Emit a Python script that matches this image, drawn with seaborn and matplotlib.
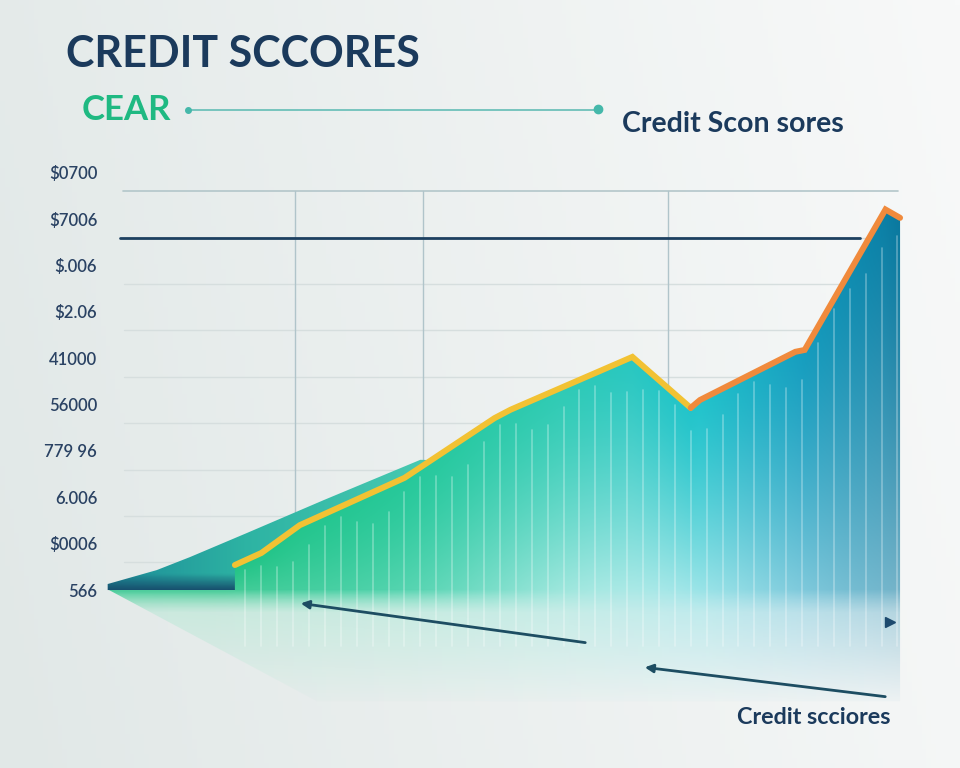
import numpy as np
import matplotlib
matplotlib.use("Agg")
import matplotlib.pyplot as plt
import seaborn as sns
from matplotlib.patches import Polygon, FancyArrowPatch
from matplotlib.colors import to_rgb

# months along x, score level (tick index) along y
score_x = [9.8, 11.8, 14.7, 22.6, 29.4, 30.6, 39.8, 44.2, 44.9, 52.1, 52.8, 58.9, 60.0]
score_y = [0.54, 0.80, 1.40, 2.42, 3.71, 3.89, 5.03, 3.93, 4.10, 5.14, 5.18, 8.21, 8.03]
split_at = 7  # yellow up to the dip, orange after it

back_x = [0.2, 3.9, 6.4, 10.7, 16.5, 23.8, 25.0]
back_y = [0.13, 0.43, 0.71, 1.23, 1.94, 2.81, 2.80]

tick_labels = ["566", "$0006", "6.006", "779 96", "56000", "41000", "$2.06", "$.006", "$7006", "$0700"]
ref_level = 7.6
vgrid_x = [14.3, 24.0, 42.5]

navy = "#1b3a5c"

sns.set_theme(style="white")
plt.rcParams["font.family"] = ["Lato", "DejaVu Sans"]

fig = plt.figure(figsize=(9.6, 7.68), dpi=100)

# background wash
bg = fig.add_axes([0, 0, 1, 1], zorder=0)
gx, gy = np.meshgrid(np.linspace(0, 1, 200), np.linspace(0, 1, 160))
left = np.array(to_rgb("#e1e8e7"))
right = np.array(to_rgb("#f8f9f9"))
t = np.clip(gx * 0.85 + (1 - gy) * 0.15, 0, 1)[..., None]
img = left * (1 - t) + right * t
bg.imshow(img, extent=[0, 1, 0, 1], aspect="auto", origin="upper")
bg.axis("off")

ax = fig.add_axes([100 / 960, 63 / 768, 810 / 960, 540 / 768], zorder=1)
ax.set_facecolor("none")
ax.set_xlim(-0.38, 60.75)
ax.set_ylim(-2.48, 9.17)

# grid
for k in range(1, 9):
    ax.axhline(k - 0.4, xmin=0.03, xmax=0.985, color="#d6dede", lw=1, zorder=1)
ax.axhline(8.61, xmin=0.028, xmax=0.985, color="#b3c6ca", lw=1.2, zorder=1)
for vx in vgrid_x:
    ax.plot([vx, vx], [0, 8.61], color="#b0c4ca", lw=1, zorder=1)
ax.plot([1.1, 57.0], [ref_level, ref_level], color="#1d4060", lw=2, zorder=2)

# back teal wedge
xs = np.linspace(0, 61, 500)
ys = np.linspace(-2.5, 8.6, 400)
X, Y = np.meshgrid(xs, ys)

c0, c1, c2 = (np.array(to_rgb(c)) for c in ("#1d8c98", "#2db3a3", "#4acbb2"))
s = np.clip(X / 25, 0, 1)[..., None]
col = np.where(s < 0.42, c0 + (c1 - c0) * (s / 0.42), c1 + (c2 - c1) * ((s - 0.42) / 0.58))
dark = np.array(to_rgb("#17506e"))
d = (np.clip(1 - Y / 0.35, 0, 1) * (X < 10.5))[..., None]
col = col * (1 - d) + dark * d
back_img = ax.imshow(col, extent=[0, 61, -2.5, 8.6], origin="lower", aspect="auto", zorder=2)
back_poly = Polygon(list(zip(back_x, back_y)) + [(25.0, 0.0), (0.2, 0.0)], closed=True, transform=ax.transData)
back_img.set_clip_path(back_poly)

# main gradient fill under the score line
stops_x = [9.0, 10.2, 23.8, 34.3, 44.9, 52.5, 58.5, 61.0]
stops_c = ["#20c283", "#22c486", "#27c99c", "#30cbb5", "#22c4cc", "#179fc0", "#0c82a8", "#0a7399"]
rgb_stops = np.array([to_rgb(c) for c in stops_c])
base = np.stack([np.interp(X, stops_x, rgb_stops[:, i]) for i in range(3)], axis=-1)
top = np.interp(X, score_x, score_y)
f = np.clip(Y / top, 0, 1)
ramp = np.clip((X - 45) / 15, 0, 1)
wmax = 0.14 + 0.46 * np.exp(-((X - 40) / 13) ** 2) + 0.25 * ramp
u = np.clip(-Y / 0.5, 0, 1)
w = np.where(Y >= 0, wmax * (1 - f) ** 1.4, wmax + (0.6 - wmax) * u)[..., None]
rgba = np.ones(X.shape + (4,))
rgba[..., :3] = base * (1 - w) + w
sx_ = np.clip(X / 60, 0, 1)
rgba[..., 3] = np.where(Y >= 0, 1.0, np.clip(1 + Y / 2.6, 0, 1) * (1 - u * (0.55 - 0.45 * sx_)))
main_img = ax.imshow(rgba, extent=[0, 61, -2.5, 8.6], origin="lower", aspect="auto", zorder=3)
main_poly = Polygon(list(zip(score_x, score_y)) + [(60.0, -2.4), (16.0, -2.4), (0.3, 0.0), (9.8, 0.0)],
                    closed=True, transform=ax.transData)
main_img.set_clip_path(main_poly)

# light stripes inside the fill
for sx in np.arange(10.6, 60, 1.2):
    st = np.interp(sx, score_x, score_y) - 0.45 - 0.25 * np.sin(sx)
    ln, = ax.plot([sx, sx], [-1.2, st], color="white", alpha=0.32, lw=1.2, zorder=4)
    ln.set_clip_path(main_poly)

# score line
sns.lineplot(x=score_x[:split_at + 1], y=score_y[:split_at + 1], ax=ax, color="#f2c233",
             lw=4.3, sort=False, zorder=5, solid_joinstyle="miter")
sns.lineplot(x=score_x[split_at:], y=score_y[split_at:], ax=ax, color="#f08a3c",
             lw=4.3, sort=False, zorder=6, solid_joinstyle="miter")

ax.set_yticks(range(len(tick_labels)))
ax.set_yticklabels(tick_labels, color="#2a4263", fontsize=12, fontweight="semibold")
ax.tick_params(axis="y", length=0, pad=2)
ax.set_xticks([])
ax.set_xlabel("")
ax.set_ylabel("")
for sp in ax.spines.values():
    sp.set_visible(False)


def fx(px):
    return px / 960


def fy(py):
    return 1 - py / 768


# headings
fig.text(fx(66), fy(54), "CREDIT SCCORES", fontsize=31, fontweight="bold", color=navy, va="center")
fig.text(fx(82), fy(110), "CEAR", fontsize=25, fontweight="bold", color="#1fb982", va="center")
fig.text(fx(622), fy(124), "Credit Scon sores", fontsize=20.5, fontweight="bold", color=navy, va="center")
fig.text(fx(737), fy(717), "Credit scciores", fontsize=16.8, fontweight="bold", color=navy, va="center")

fig.add_artist(plt.Line2D([fx(188), fx(598)], [fy(110), fy(110)], color="#6ec1ba", lw=1.3))
fig.add_artist(plt.Line2D([fx(188)], [fy(110)], marker="o", ms=4, color="#45b8aa"))
fig.add_artist(plt.Line2D([fx(598)], [fy(109)], marker="o", ms=6, color="#45b8aa"))

# arrows under the chart
arrow_kw = dict(arrowstyle="-|>", color="#1d4d62", lw=2, mutation_scale=12, zorder=10)
fig.add_artist(FancyArrowPatch((fx(588), fy(643)), (fx(298), fy(603)), transform=fig.transFigure, **arrow_kw))
fig.add_artist(FancyArrowPatch((fx(888), fy(697)), (fx(642), fy(667)), transform=fig.transFigure, **arrow_kw))
fig.add_artist(plt.Line2D([fx(890)], [fy(622)], marker=">", ms=7, color="#1d4a6e", zorder=10))

fig.savefig("out.png", dpi=100)
